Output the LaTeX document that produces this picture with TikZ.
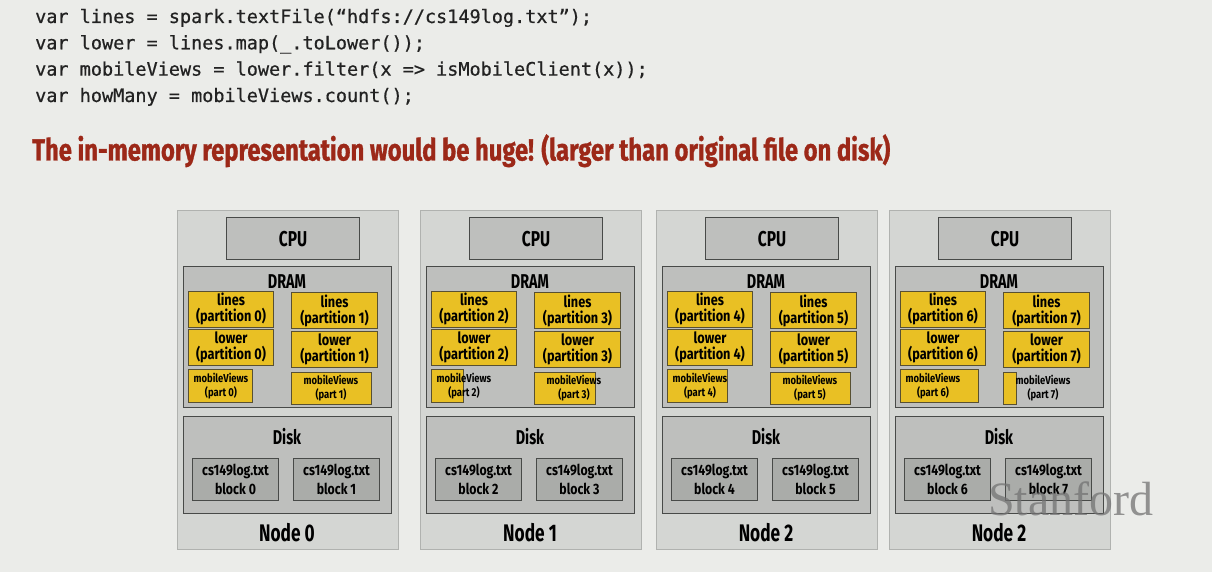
\documentclass[tikz,border=0pt]{standalone}
\usepackage{fontspec}
\usepackage{tikz}
\usetikzlibrary{positioning}

\newfontfamily\codefont[FakeBold=0.6]{DejaVu Sans Mono}
\newfontfamily\slidefont[FakeStretch=0.72]{Fira Sans}
\newfontfamily\partfont[FakeStretch=0.82]{Fira Sans}
\newfontfamily\titlefont[FakeStretch=0.78,FakeBold=1]{Fira Sans}
\newfontfamily\markfont{Liberation Serif}

\definecolor{slidebg}{RGB}{235,236,233}
\definecolor{nodegray}{RGB}{212,214,211}
\definecolor{nodeedge}{RGB}{176,178,175}
\definecolor{unitgray}{RGB}{190,191,189}
\definecolor{blockgray}{RGB}{170,172,169}
\definecolor{edgegray}{RGB}{72,74,72}
\definecolor{rddyellow}{RGB}{233,192,36}
\definecolor{partedge}{RGB}{88,80,50}
\definecolor{titlered}{RGB}{156,40,24}
\definecolor{codeblack}{RGB}{34,34,34}

\tikzset{
  every node/.style={inner sep=0pt},
  nodebox/.style={draw=nodeedge, fill=nodegray, line width=0.8pt, anchor=north west,
    minimum width=221pt, minimum height=339pt},
  unitbox/.style={draw=edgegray, fill=unitgray, line width=1.1pt, anchor=north west},
  blockbox/.style={draw=edgegray, fill=blockgray, line width=1pt, anchor=north west,
    minimum width=86pt, minimum height=42pt, align=center,
    font=\partfont\bfseries\fontsize{15}{19}\selectfont},
  partbox/.style={draw=partedge, fill=rddyellow, line width=1pt, anchor=north west,
    minimum width=85pt, minimum height=36pt, align=center,
    font=\partfont\bfseries\fontsize{15.5}{16}\selectfont},
  mvbox/.style={draw=partedge, fill=rddyellow, line width=1pt, anchor=north west,
    minimum height=33pt},
  mvtext/.style={align=center, font=\partfont\bfseries\fontsize{11.5}{13.5}\selectfont},
  unitlabel/.style={font=\slidefont\bfseries\fontsize{20}{20}\selectfont},
  nodelabel/.style={font=\slidefont\bfseries\fontsize{24}{24}\selectfont},
  codeline/.style={anchor=base west, text=codeblack,
    font=\codefont\fontsize{18.5}{20}\selectfont},
}

\begin{document}
\begin{tikzpicture}[x=1pt,y=-1pt]
\fill[slidebg] (0,0) rectangle (1212,572);
\useasboundingbox (0,0) rectangle (1212,572);

\node[codeline] (code1) at (35,23) {var lines = spark.textFile(“hdfs://cs149log.txt”);};
\node[codeline] (code2) at (35,49.3) {var lower = lines.map(\_.toLower());};
\node[codeline] (code3) at (35,75.6) {var mobileViews = lower.filter(x => isMobileClient(x));};
\node[codeline] (code4) at (35,102) {var howMany = mobileViews.count();};

\node[anchor=base west, text=titlered, font=\titlefont\bfseries\fontsize{30.5}{31}\selectfont]
  (headline) at (32,160.5) {The in-memory representation would be huge! (larger than original file on disk)};

% one column per machine: left edge / index / partitions / mobileViews widths / label
\foreach \L/\k/\a/\b/\wa/\wb/\lab in {177/0/0/1/64/80/0, 420/1/2/3/31.6/61/1,
    656/2/4/5/60.4/80/2, 889/3/6/7/77.6/13.4/2}{
  \node[nodebox] (node\k) at (\L,210) {};
  \node[unitbox, minimum width=133pt, minimum height=42pt, font=\slidefont\bfseries\fontsize{21.5}{22}\selectfont]
    (cpu\k) at (\L+49,217) {CPU};
  \node[unitbox, minimum width=208pt, minimum height=141pt] (dram\k) at (\L+6,266) {};
  \node[unitlabel] (dramlab\k) at (\L+110,282) {DRAM};

  \node[partbox] (linesA\k) at (\L+11,290.7) {lines\\(partition \a)};
  \node[partbox, minimum width=86pt] (linesB\k) at (\L+114,292.3) {lines\\(partition \b)};
  \node[partbox] (lowerA\k) at (\L+11,329.3) {lower\\(partition \a)};
  \node[partbox, minimum width=86pt] (lowerB\k) at (\L+114,331.3) {lower\\(partition \b)};
  \node[mvbox, minimum width=\wa pt] (mvA\k) at (\L+11,369.3) {};
  \node[mvbox, minimum width=\wb pt, minimum height=32.3pt] (mvB\k) at (\L+114,371.7) {};
  \node[mvtext] (mvtextA\k) at (\L+44,386) {mobileViews\\(part \a)};
  \node[mvtext] (mvtextB\k) at (\L+154,388) {mobileViews\\(part \b)};

  \node[unitbox, minimum width=208pt, minimum height=97pt] (disk\k) at (\L+6,416) {};
  \node[unitlabel] (disklab\k) at (\L+110,437) {Disk};
  \node[blockbox] (blockA\k) at (\L+15,458) {cs149log.txt\\block \a};
  \node[blockbox] (blockB\k) at (\L+116,458) {cs149log.txt\\block \b};

  \node[nodelabel] (nodelab\k) at (\L+110,533) {Node \lab};
}

\node[anchor=base west, text=black!55, opacity=0.75, font=\markfont\fontsize{48}{48}\selectfont]
  (stanford) at (988,515) {Stanford};
\end{tikzpicture}
\end{document}
